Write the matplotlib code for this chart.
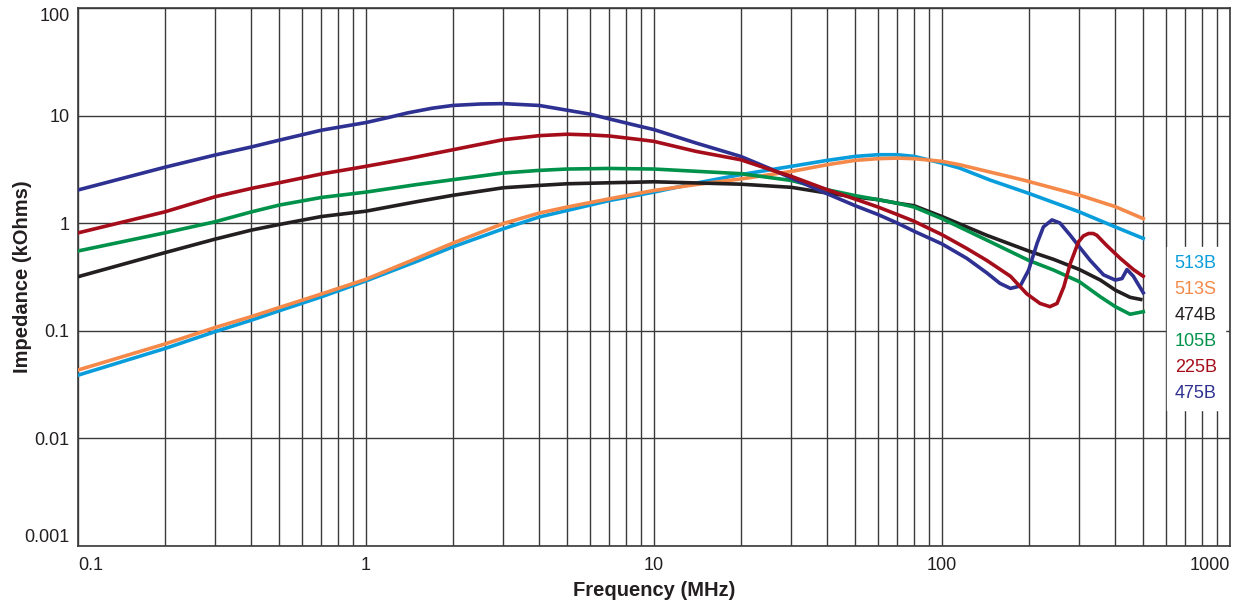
#!/usr/bin/env python3
"""Impedance vs frequency for six ferrite materials (log-log)."""

import matplotlib

matplotlib.use("Agg")
import matplotlib.pyplot as plt
from matplotlib.ticker import FixedLocator, NullFormatter, NullLocator

plt.rcParams["font.family"] = ["Liberation Sans", "DejaVu Sans"]

# values (frequency MHz, impedance kOhms)
freq_513b = [0.1, 0.2, 0.3, 0.4, 0.5, 0.7, 1, 1.5, 2, 3, 4, 5, 7, 10, 14, 20, 30, 40,
             50, 60, 70, 80, 100, 115, 147, 200, 300, 400, 500]
imp_513b = [0.0385, 0.068, 0.098, 0.125, 0.153, 0.206, 0.29, 0.44, 0.6, 0.885, 1.14,
            1.31, 1.62, 1.94, 2.35, 2.82, 3.37, 3.83, 4.17, 4.32, 4.32, 4.17, 3.61,
            3.25, 2.51, 1.89, 1.27, 0.92, 0.72]

freq_513s = [0.1, 0.2, 0.3, 0.4, 0.5, 0.7, 1, 1.5, 2, 3, 4, 5, 7, 10, 14, 20, 30, 40,
             50, 60, 70, 80, 100, 115, 192, 300, 400, 500]
imp_513s = [0.043, 0.075, 0.107, 0.135, 0.164, 0.219, 0.30, 0.47, 0.65, 0.99, 1.24,
            1.41, 1.68, 2.01, 2.28, 2.57, 3.02, 3.49, 3.83, 3.97, 4.02, 3.97, 3.75,
            3.49, 2.51, 1.82, 1.42, 1.1]

freq_474b = [0.1, 0.2, 0.3, 0.4, 0.5, 0.7, 1, 1.5, 2, 3, 4, 5, 7, 10, 20, 30, 40, 50,
             60, 70, 80, 100, 143, 200, 244, 300, 355, 400, 450, 490]
imp_474b = [0.317, 0.53, 0.71, 0.86, 0.97, 1.15, 1.29, 1.58, 1.81, 2.13, 2.24, 2.32,
            2.37, 2.42, 2.3, 2.15, 1.9, 1.75, 1.65, 1.53, 1.45, 1.15, 0.77, 0.55,
            0.46, 0.37, 0.295, 0.238, 0.204, 0.195]

freq_105b = [0.1, 0.2, 0.3, 0.4, 0.5, 0.7, 1, 1.5, 2, 3, 4, 5, 7, 10, 20, 30, 40, 50,
             60, 70, 80, 100, 143, 200, 244, 300, 355, 400, 450, 500]
imp_105b = [0.55, 0.81, 1.03, 1.27, 1.47, 1.73, 1.94, 2.28, 2.53, 2.92, 3.09, 3.18,
            3.22, 3.18, 2.88, 2.49, 2.04, 1.8, 1.65, 1.53, 1.41, 1.1, 0.695, 0.45,
            0.366, 0.285, 0.206, 0.167, 0.142, 0.15]

freq_225b = [0.1, 0.2, 0.3, 0.4, 0.5, 0.7, 1, 1.4, 2, 3, 4, 5, 6, 7, 9, 10, 14, 20,
             25, 30, 40, 50, 60, 70, 80, 100, 122, 143, 173, 197, 219, 237, 251, 265,
             279, 298, 310, 323, 335, 345, 373, 416, 462, 500]
imp_225b = [0.81, 1.27, 1.76, 2.1, 2.37, 2.86, 3.37, 3.97, 4.8, 5.96, 6.5, 6.7, 6.6,
            6.45, 5.96, 5.75, 4.64, 3.88, 3.18, 2.72, 2.04, 1.67, 1.41, 1.2, 1.04,
            0.78, 0.58, 0.45, 0.32, 0.22, 0.179, 0.167, 0.179, 0.256, 0.42, 0.67,
            0.76, 0.8, 0.8, 0.77, 0.62, 0.47, 0.37, 0.32]

freq_475b = [0.1, 0.2, 0.3, 0.4, 0.5, 0.7, 1, 1.2, 1.4, 1.7, 2, 2.5, 3, 4, 5, 6, 7, 9,
             10, 14, 20, 25, 30, 40, 50, 60, 70, 80, 100, 122, 143, 159, 173, 187,
             200, 214, 225, 241, 257, 279, 300, 327, 364, 400, 422, 439, 462, 500]
imp_475b = [2.03, 3.3, 4.3, 5.1, 5.9, 7.3, 8.6, 9.6, 10.6, 11.7, 12.4, 12.8, 12.9,
            12.4, 11.2, 10.3, 9.3, 7.9, 7.4, 5.55, 4.17, 3.25, 2.62, 1.87, 1.45, 1.2,
            1.0, 0.84, 0.64, 0.47, 0.345, 0.275, 0.247, 0.26, 0.366, 0.65, 0.92,
            1.07, 1.0, 0.77, 0.6, 0.45, 0.33, 0.295, 0.305, 0.37, 0.32, 0.225]

x_ticks = [0.1, 1, 10, 100, 1000]
x_tick_labels = ["0.1", "1", "10", "100", "1000"]
y_ticks = [0.001, 0.01, 0.1, 1, 10, 100]
y_tick_labels = ["0.001", "0.01", "0.1", "1", "10", "100"]

COLORS = {
    "513B": "#0a9ddc",
    "513S": "#f5894a",
    "474B": "#231f20",
    "105B": "#00924a",
    "225B": "#a50d1a",
    "475B": "#2e3192",
}

GRID = "#3a3a3a"


def main() -> None:
    fig = plt.figure(figsize=(12.37, 6.04), dpi=100)
    ax = fig.add_axes([0.063, 0.0965, 0.9313, 0.8903])

    series = {
        "513B": (freq_513b, imp_513b),
        "513S": (freq_513s, imp_513s),
        "474B": (freq_474b, imp_474b),
        "105B": (freq_105b, imp_105b),
        "475B": (freq_475b, imp_475b),
        "225B": (freq_225b, imp_225b),
    }
    handles = {}
    for name, (xs, ys) in series.items():
        (line,) = ax.plot(xs, ys, color=COLORS[name], linewidth=2.6,
                          solid_joinstyle="round", zorder=3, label=name)
        handles[name] = line

    ax.set_xscale("log")
    ax.set_yscale("log")
    ax.set_xlim(0.1, 1000)
    ax.set_ylim(0.001, 100)

    ax.xaxis.set_major_locator(FixedLocator(x_ticks))
    ax.set_xticklabels(x_tick_labels)
    ax.xaxis.set_minor_locator(FixedLocator(
        [m * 10.0 ** e for e in range(-1, 3) for m in range(2, 10)]))
    ax.xaxis.set_minor_formatter(NullFormatter())
    ax.yaxis.set_major_locator(FixedLocator(y_ticks))
    ax.set_yticklabels(y_tick_labels)
    ax.yaxis.set_minor_locator(NullLocator())

    ax.grid(which="major", axis="both", color=GRID, linewidth=1.0)
    ax.grid(which="minor", axis="x", color=GRID, linewidth=1.0)
    ax.set_axisbelow(True)
    for spine in ax.spines.values():
        spine.set_color(GRID)
        spine.set_linewidth(1.2)

    ax.tick_params(axis="both", which="both", length=0, labelsize=13,
                   colors="#231f20")
    ax.tick_params(axis="x", pad=8)
    ax.tick_params(axis="y", pad=6)
    xl = ax.get_xticklabels()
    xl[0].set_horizontalalignment("left")
    xl[-1].set_horizontalalignment("right")
    yl = ax.get_yticklabels()
    yl[0].set_verticalalignment("bottom")
    yl[-1].set_verticalalignment("top")

    ax.set_xlabel("Frequency (MHz)", fontsize=14.5, fontweight="bold",
                  color="#231f20", labelpad=5)
    ax.set_ylabel("Impedance (kOhms)", fontsize=14.5, fontweight="bold",
                  color="#231f20")
    ax.yaxis.set_label_coords(-0.040, 0.5)

    order = ["513B", "513S", "474B", "105B", "225B", "475B"]
    leg = ax.legend(
        [handles[n] for n in order],
        order,
        loc="upper left",
        bbox_to_anchor=(0.945, 0.556),
        borderaxespad=0,
        handlelength=0,
        handletextpad=0,
        labelspacing=0.5,
        borderpad=0.45,
        fontsize=13,
        frameon=True,
        fancybox=False,
        facecolor="white",
        edgecolor="white",
        framealpha=1.0,
    )
    for text, name in zip(leg.get_texts(), order):
        text.set_color(COLORS[name])
    for h in leg.legend_handles:
        h.set_visible(False)

    fig.savefig("out.png", dpi=100)
    plt.close(fig)


if __name__ == "__main__":
    main()
